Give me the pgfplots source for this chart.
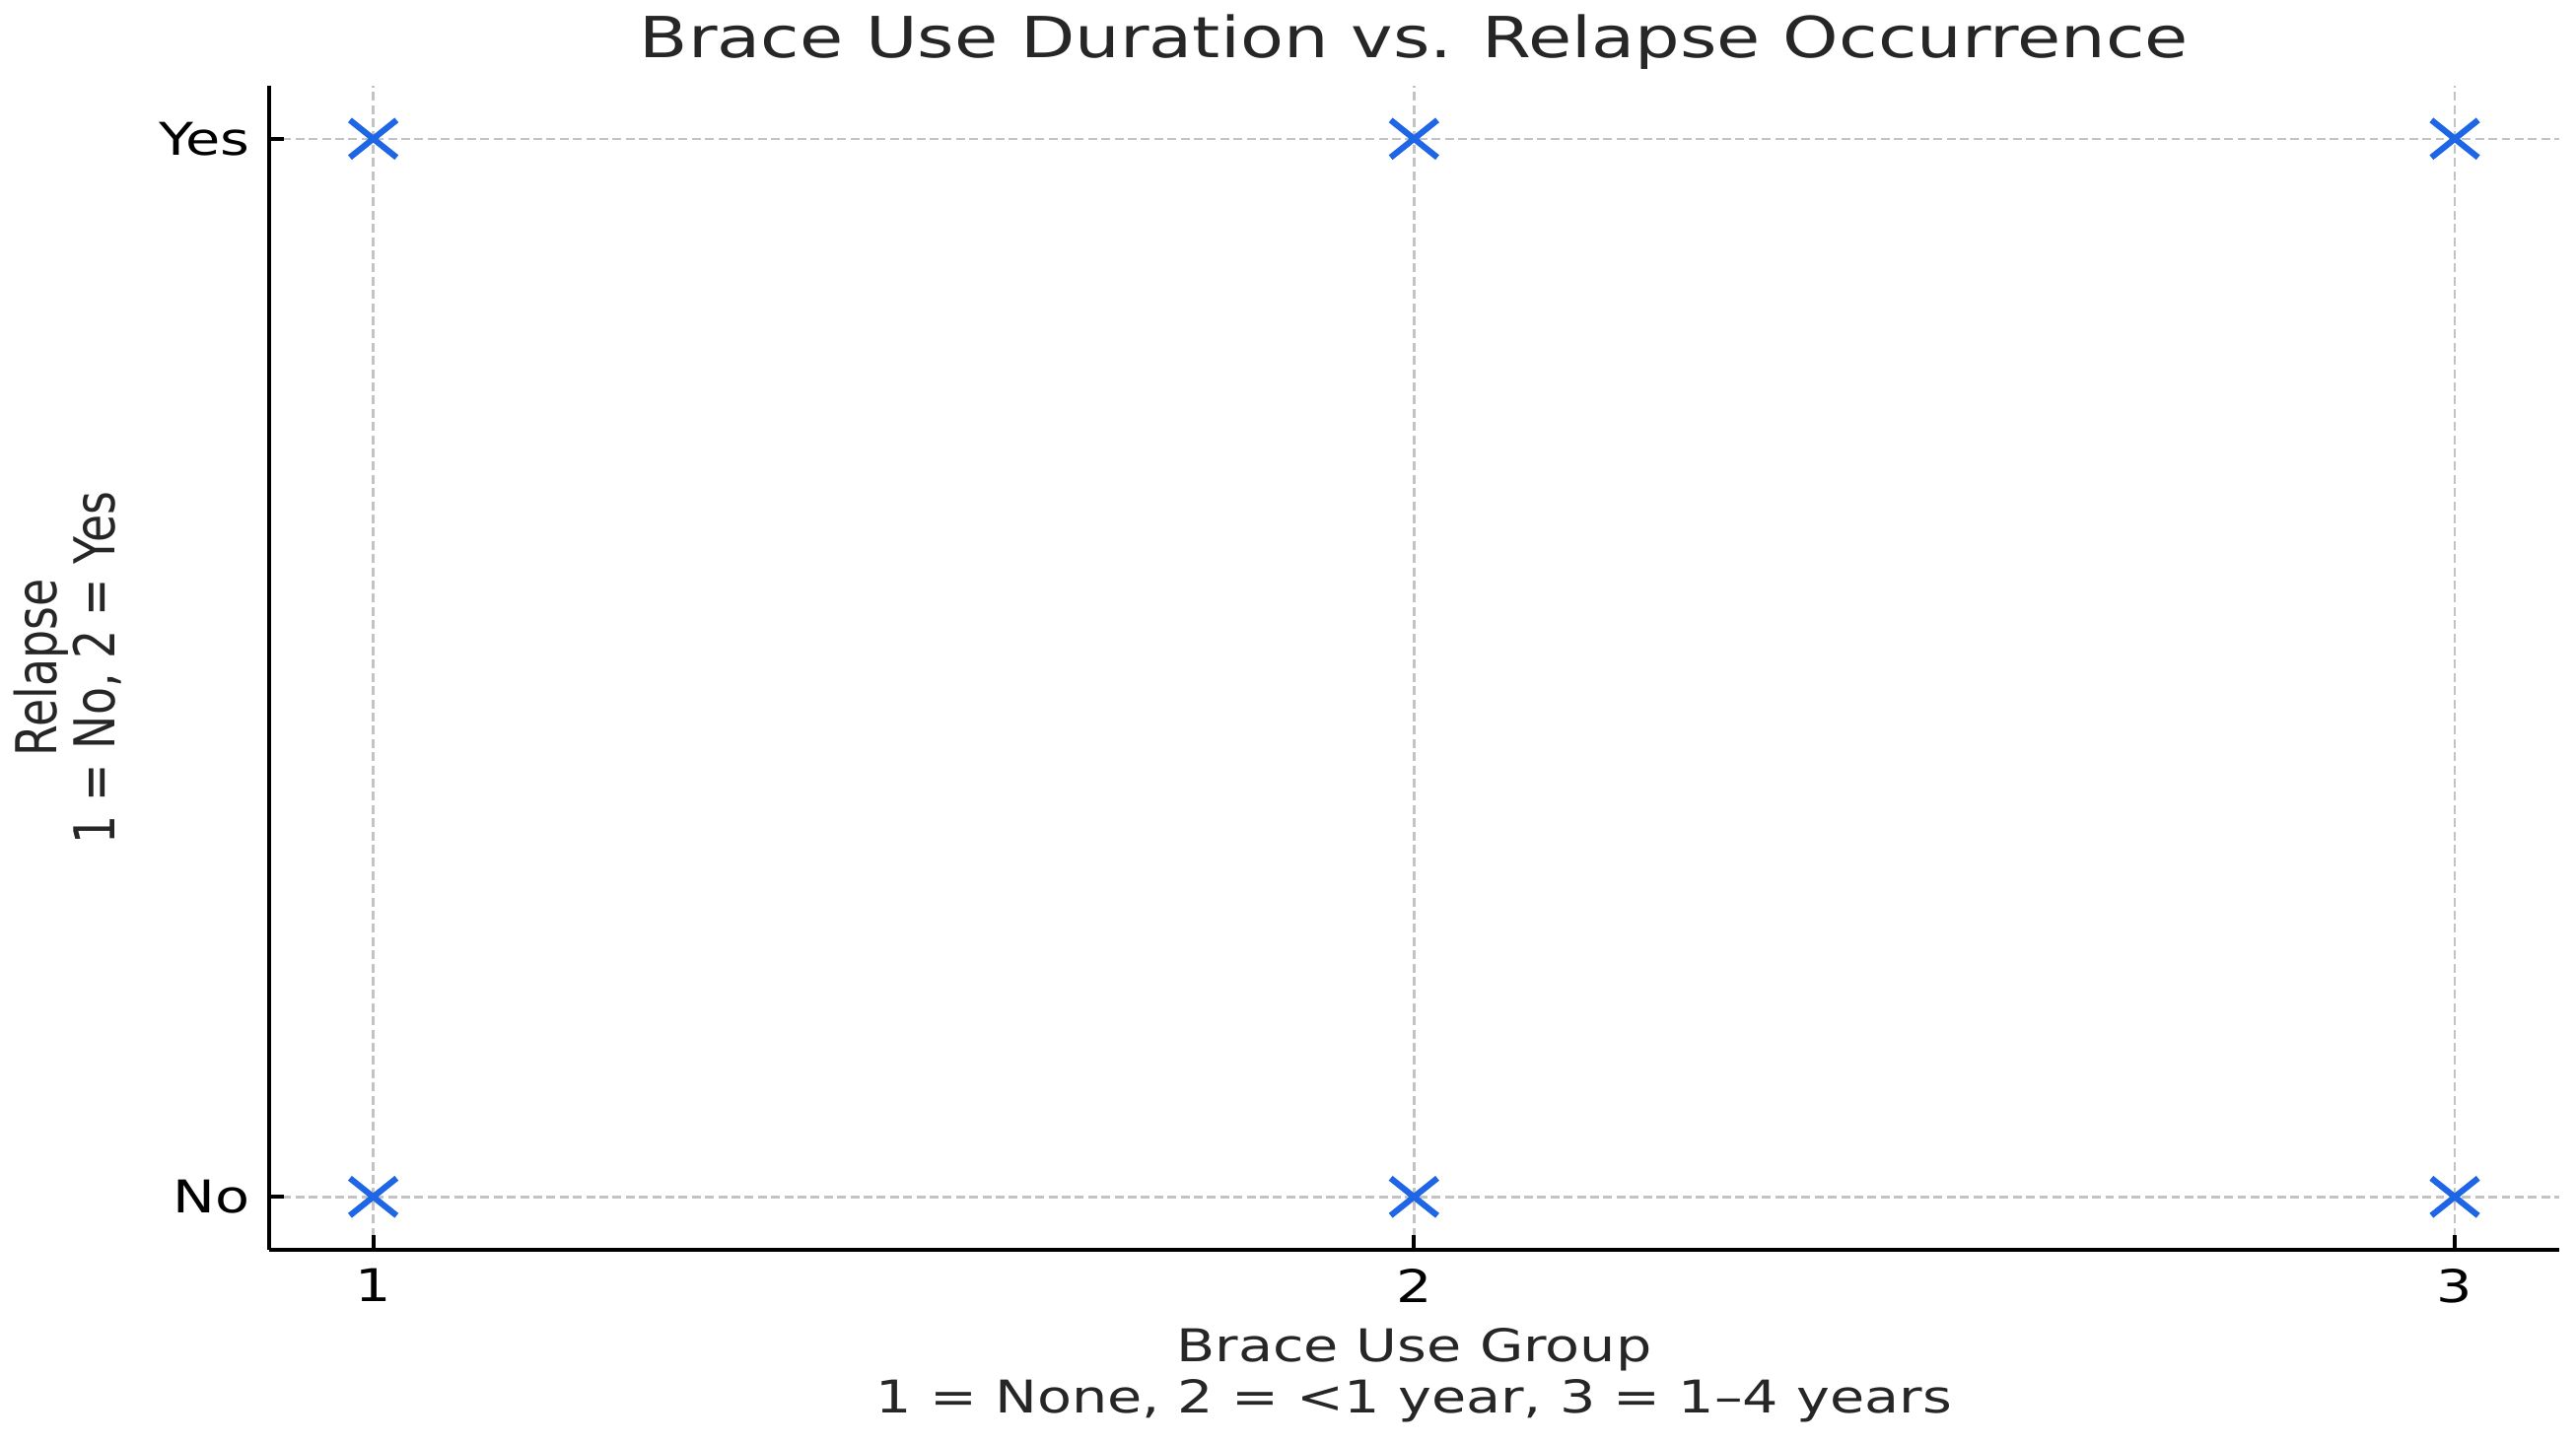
\documentclass[border=0pt]{standalone}
\usepackage{pgfplots}
\pgfplotsset{compat=1.18}
\usepackage{fontspec}
% the reference is stretched sideways by about 1.25
\setmainfont{DejaVu Sans}[FakeStretch=1.25]
\newfontfamily\plainfont{DejaVu Sans}
\definecolor{markblue}{RGB}{31,102,230}
\definecolor{gridgray}{RGB}{195,195,195}
\definecolor{txt}{RGB}{38,38,38}

\begin{document}
\begin{tikzpicture}
\begin{axis}[
  scale only axis,
  width=416pt, height=211.5pt,
  xmin=0.9, xmax=3.1, ymin=0.95, ymax=2.05,
  axis x line*=bottom, axis y line*=left,
  axis line style={line width=0.7pt, -},
  xtick={1,2,3}, xticklabels={1,2,3},
  ytick={1,2}, yticklabels={No,Yes},
  tick align=inside,
  major tick length=2.6pt,
  tick style={line width=0.7pt, black},
  ticklabel style={font=\fontsize{8.2}{9.8}\selectfont, inner sep=0pt},
  xticklabel style={yshift=-3.25pt},
  yticklabel style={xshift=-3.3pt},
  grid=major,
  major grid style={gridgray, dash pattern=on 1.6pt off 0.8pt, line width=0.45pt},
  title={Brace Use Duration vs. Relapse Occurrence},
  title style={font=\fontsize{10.3}{12}\selectfont, text=txt, inner sep=0pt,
    at={(rel axis cs:0.5,1)}, anchor=base, yshift=-0.8pt},
  xlabel={Brace Use Group\\1 = None, 2 = <1 year, 3 = 1–4 years},
  xlabel style={align=center, font=\fontsize{8.2}{9.3}\selectfont, text=txt,
    inner sep=0pt, at={(rel axis cs:0.5,0)}, anchor=north, yshift=-14.1pt},
  ylabel={\scalebox{1}[1.25]{\plainfont Relapse}\\\scalebox{1}[1.25]{\plainfont 1 = No, 2 = Yes}},
  ylabel style={align=center, font=\fontsize{8.2}{10.5}\selectfont, text=txt,
    inner sep=0pt, at={(rel axis cs:-0.0642,0.5)}, rotate=0, anchor=south},
]
\addplot[only marks, color=markblue, mark=x, mark size=4.8pt,
  mark options={xscale=1.25, line width=1.1pt}]
  coordinates {(1,1) (2,1) (3,1) (1,2) (2,2) (3,2)};
\coordinate (bl) at (rel axis cs:-0.11755,-0.1668);
\coordinate (tr) at (rel axis cs:1.0075,1.07376);
\end{axis}
\path (bl) rectangle (tr);
\end{tikzpicture}
\end{document}
